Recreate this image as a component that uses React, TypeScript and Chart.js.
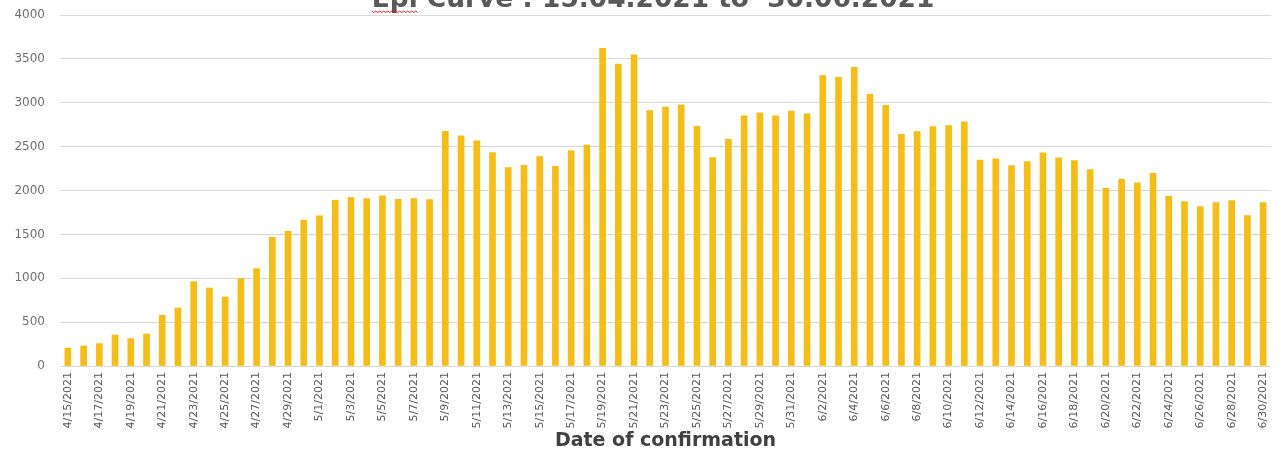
import React, { useEffect, useRef } from "react";
import { Chart, registerables } from "chart.js";

Chart.register(...registerables);

const dates: string[] = [
  "4/15/2021", "4/16/2021", "4/17/2021", "4/18/2021", "4/19/2021", "4/20/2021", "4/21/2021", "4/22/2021",
  "4/23/2021", "4/24/2021", "4/25/2021", "4/26/2021", "4/27/2021", "4/28/2021", "4/29/2021", "4/30/2021",
  "5/1/2021", "5/2/2021", "5/3/2021", "5/4/2021", "5/5/2021", "5/6/2021", "5/7/2021", "5/8/2021",
  "5/9/2021", "5/10/2021", "5/11/2021", "5/12/2021", "5/13/2021", "5/14/2021", "5/15/2021", "5/16/2021",
  "5/17/2021", "5/18/2021", "5/19/2021", "5/20/2021", "5/21/2021", "5/22/2021", "5/23/2021", "5/24/2021",
  "5/25/2021", "5/26/2021", "5/27/2021", "5/28/2021", "5/29/2021", "5/30/2021", "5/31/2021",
  "6/1/2021", "6/2/2021", "6/3/2021", "6/4/2021", "6/5/2021", "6/6/2021", "6/7/2021", "6/8/2021",
  "6/9/2021", "6/10/2021", "6/11/2021", "6/12/2021", "6/13/2021", "6/14/2021", "6/15/2021", "6/16/2021",
  "6/17/2021", "6/18/2021", "6/19/2021", "6/20/2021", "6/21/2021", "6/22/2021", "6/23/2021", "6/24/2021",
  "6/25/2021", "6/26/2021", "6/27/2021", "6/28/2021", "6/29/2021", "6/30/2021",
];

const cases: number[] = [
  205, 228, 255, 353, 312, 365, 578, 661,
  961, 889, 787, 996, 1110, 1467, 1535, 1664,
  1710, 1889, 1919, 1908, 1938, 1900, 1908, 1896,
  2675, 2622, 2565, 2432, 2261, 2288, 2386, 2276,
  2451, 2519, 3620, 3440, 3545, 2910, 2950, 2975,
  2732, 2375, 2584, 2850, 2885, 2850, 2905,
  2875, 3310, 3290, 3405, 3095, 2970, 2641, 2671,
  2728, 2740, 2782, 2348, 2360, 2284, 2329, 2428,
  2371, 2341, 2238, 2025, 2128, 2086, 2196, 1934,
  1873, 1816, 1862, 1885, 1714, 1862,
];

const chartTitle = "Epi Curve : 15.04.2021 to  30.06.2021";
const xTitle = "Date of confirmation";
const yMin = 0;
const yMax = 4000;
const yStep = 500;

const titlePlugin = {
  id: "cutTitle",
  afterDraw(chart: any) {
    const ctx = chart.ctx;
    ctx.save();
    ctx.font = "bold 26.4px 'DejaVu Sans'";
    ctx.fillStyle = "#595959";
    ctx.textAlign = "center";
    ctx.textBaseline = "alphabetic";
    ctx.fillText(chartTitle, 653, 7);
    // spell-check squiggle under "Epi"
    const w = ctx.measureText(chartTitle).width;
    const x0 = 653 - w / 2;
    ctx.strokeStyle = "#d02020";
    ctx.lineWidth = 1;
    ctx.beginPath();
    for (let x = x0; x <= x0 + 46; x += 2) {
      const y = 11 + (Math.round((x - x0) / 2) % 2 === 0 ? 0 : 1.5);
      if (x === x0) ctx.moveTo(x, y);
      else ctx.lineTo(x, y);
    }
    ctx.stroke();
    ctx.restore();
  },
};

export default function App() {
  const ref = useRef<HTMLCanvasElement>(null);

  useEffect(() => {
    if (!ref.current) return;
    const chart = new Chart(ref.current, {
      type: "bar",
      data: {
        labels: dates,
        datasets: [
          {
            data: cases,
            backgroundColor: "#F5BD17",
            borderWidth: 0,
            barThickness: 6,
          },
        ],
      },
      options: {
        animation: false,
        responsive: true,
        maintainAspectRatio: false,
        layout: { padding: { top: 15, right: 8, left: 0, bottom: 0 } },
        plugins: {
          legend: { display: false },
          tooltip: { enabled: false },
          title: { display: false },
        },
        scales: {
          x: {
            grid: { display: false, drawTicks: false },
            border: { display: false },
            ticks: {
              autoSkip: false,
              minRotation: 90,
              maxRotation: 90,
              padding: 6,
              color: "#595959",
              font: { family: "'DejaVu Sans'", size: 11 },
              callback: (_v: any, i: number) => (i % 2 === 0 ? dates[i] : ""),
            },
            title: {
              display: true,
              text: xTitle,
              color: "#404040",
              font: { family: "'DejaVu Sans'", size: 19, weight: "bold" },
              padding: { top: 0, bottom: 2 },
            },
            afterFit: (scale: any) => {
              scale.height = 88;
              scale.paddingLeft = 0;
              scale.paddingRight = 0;
            },
          },
          y: {
            min: yMin,
            max: yMax,
            ticks: {
              stepSize: yStep,
              padding: 15,
              color: "#6f6f6f",
              font: { family: "'DejaVu Sans'", size: 12 },
              callback: (v: any) => String(v),
            },
            grid: { color: "#d9d9d9", lineWidth: 1, drawTicks: false, tickLength: 0 },
            border: { display: false },
            afterFit: (scale: any) => {
              scale.width = 60;
              scale.paddingTop = 0;
              scale.paddingBottom = 0;
            },
          },
        },
      },
      plugins: [titlePlugin],
    });
    return () => chart.destroy();
  }, []);

  return (
    <div style={{ position: "absolute", left: 0, top: 0, width: 1279, height: 454, background: "#fff" }}>
      <canvas ref={ref} />
    </div>
  );
}
